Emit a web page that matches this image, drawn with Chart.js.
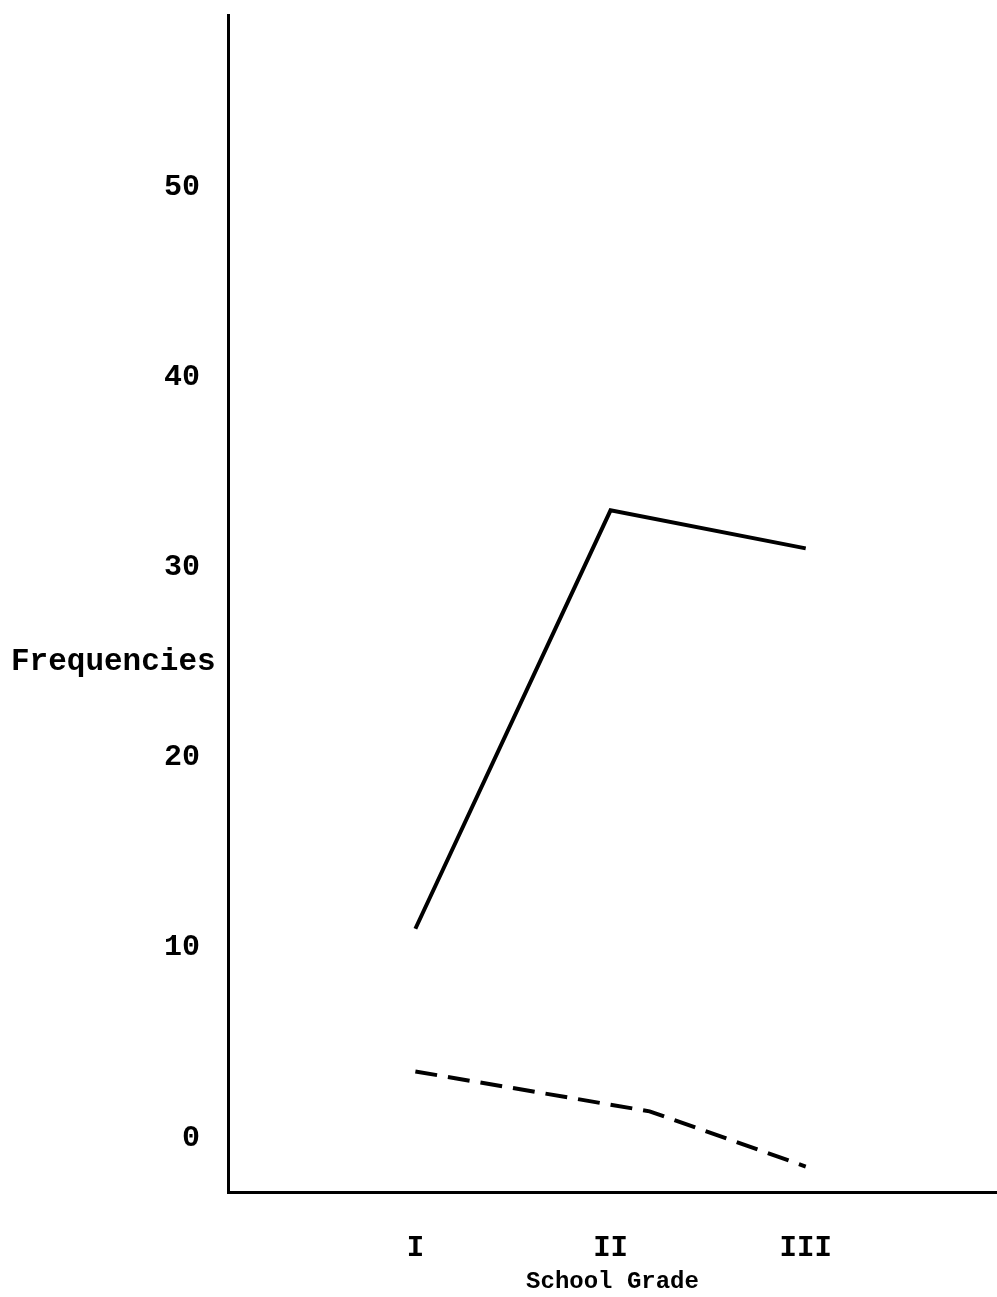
<!DOCTYPE html>
<html>
<head>
<meta charset="utf-8">
<script src="https://cdn.jsdelivr.net/npm/chart.js@4/dist/chart.umd.min.js"></script>
<style>
html,body{margin:0;padding:0;background:#fff;}
#wrap{width:997px;height:1297px;}
</style>
</head>
<body>
<div id="wrap"><canvas id="c" width="997" height="1297"></canvas></div>
<script>
// ---- data ----
const gradeLabels = ['I', 'II', 'III'];
const gradePositions = [1, 2, 3];
const solidValues = [11, 33, 31];
const dashedX = [1, 2.2, 3];
const dashedValues = [3.5, 1.4, -1.5];
const yTickValues = [0, 10, 20, 30, 40, 50];
const yAxisLabel = 'Frequencies';
const xAxisLabel = 'School Grade';

const solidData = gradePositions.map((x, i) => ({x: x, y: solidValues[i]}));
const dashedData = dashedX.map((x, i) => ({x: x, y: dashedValues[i]}));

const typeFont = 'Liberation Mono, Courier New, monospace';

const sideLabel = {
  id: 'sideLabel',
  afterDraw(chart) {
    const ctx = chart.ctx;
    const y = chart.scales.y.getPixelForValue(25);
    ctx.save();
    ctx.fillStyle = '#000';
    ctx.font = 'bold 31px ' + typeFont;
    ctx.textAlign = 'left';
    ctx.textBaseline = 'middle';
    ctx.fillText(yAxisLabel, 11, y);
    ctx.restore();
  }
};

new Chart(document.getElementById('c'), {
  type: 'line',
  data: {
    datasets: [
      {
        data: solidData,
        borderColor: '#000',
        borderWidth: 4,
        pointRadius: 0,
        tension: 0,
        fill: false
      },
      {
        data: dashedData,
        borderColor: '#000',
        borderWidth: 4,
        borderDash: [22, 11],
        pointRadius: 0,
        tension: 0,
        fill: false
      }
    ]
  },
  options: {
    responsive: false,
    animation: false,
    events: [],
    layout: {padding: {top: 15, right: 0, left: 0, bottom: 0}},
    plugins: {legend: {display: false}, tooltip: {enabled: false}},
    scales: {
      x: {
        type: 'linear',
        min: 0.04,
        max: 3.98,
        grid: {display: false, drawTicks: false},
        border: {display: true, color: '#000', width: 3},
        afterBuildTicks(scale) { scale.ticks = gradePositions.map(v => ({value: v})); },
        afterFit(scale) { scale.height = 105; scale.paddingLeft = 0; scale.paddingRight = 0; },
        ticks: {
          padding: 39,
          color: '#000',
          font: {family: typeFont, size: 29, weight: 'bold'},
          callback(v) { const i = gradePositions.indexOf(v); return i >= 0 ? gradeLabels[i] : ''; }
        },
        title: {
          display: true,
          text: xAxisLabel,
          color: '#000',
          font: {family: typeFont, size: 24, weight: 'bold'},
          padding: {top: 3, bottom: 1}
        }
      },
      y: {
        type: 'linear',
        min: -2.84,
        max: 59.04,
        grid: {display: false, drawTicks: false},
        border: {display: true, color: '#000', width: 3},
        afterBuildTicks(scale) { scale.ticks = yTickValues.map(v => ({value: v})); },
        afterFit(scale) { scale.width = 228; scale.paddingTop = 0; scale.paddingBottom = 0; },
        ticks: {
          padding: 28,
          color: '#000',
          font: {family: typeFont, size: 30, weight: 'bold'}
        }
      }
    }
  },
  plugins: [sideLabel]
});
</script>
</body>
</html>
